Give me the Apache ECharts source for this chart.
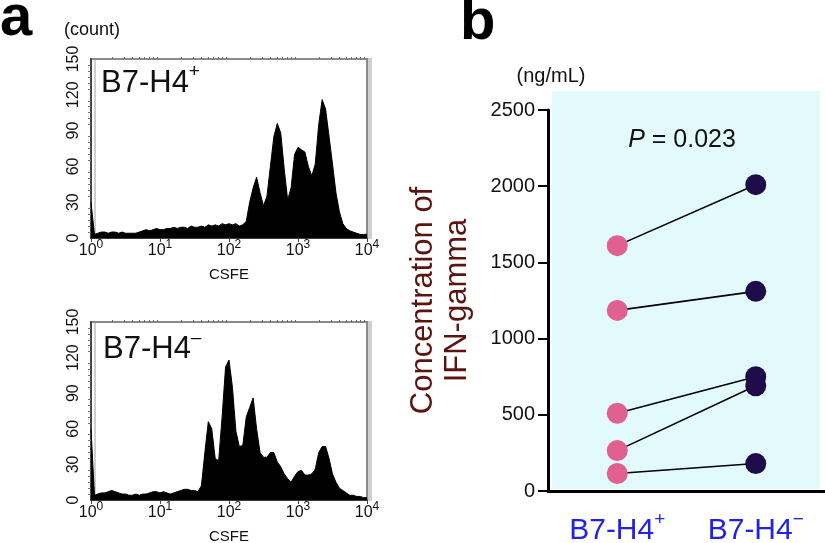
<!DOCTYPE html>
<html><head><meta charset="utf-8">
<script src="https://cdn.jsdelivr.net/npm/echarts@6/dist/echarts.min.js"></script>
<style>html,body{margin:0;padding:0;background:#fff}#c{width:825px;height:543px}</style>
</head><body><div id="c"></div>
<script>
// ---- data ----
const logBinWidth = 0.05; // histogram bin width in log10(CSFE)
const countPos = [30,3,4,5,5,4,5,5,4,5,4,4, 4,4,5,6, 7,6,7,8,7,7,8, 8,9,8,9,9,8,10,9,9, 10,9,11,10,11,10,12,11, 12,11,12,10,11,
  14,30,42,51,38,27,35,60,85,96,88,58,32,42,70,76,74,72,60,52,62,95,116,108,85,62,38,22,12,8,6,5,4,3,3,3];
const countNeg = [60,4,5,6,6,7,8,7,6,5, 5,4,4,5,4,5,5,6,7,7, 6,7,6,5,6,7,8,9,9,8, 8,7,12,40,66,60,35,33,70,112,
  118,95,58,45,46,70,78,86,60,40, 36,36,40,40,32,28,22,18,15,20, 24,25,21,21,22,26,40,45,45,35, 22,15,10,8,6,4,4,3,3,2, 2];
const histMin = 1, histMax = 10000;
const countMax = 150, countStep = 30;
const groups = ['B7-H4+', 'B7-H4\u2212'];
const ifnPos = [1610, 1185, 510, 265, 115];
const ifnNeg = [2010, 1310, 750, 690, 180];
const ifnMax = 2500, ifnStep = 500;

// ---- helpers ----
const FONT = '"Liberation Sans", Arial, Helvetica, sans-serif';
const minorVals = [];
for (let d = 1; d < histMax; d *= 10) for (let k = 2; k <= 9; k++) minorVals.push(d * k);
const toXY = arr => arr.map((c, i) => [Math.pow(10, i * logBinWidth), c]);
const supRich = (size, supSize, color, lh, slh) => ({
  m: {fontSize: size, fontFamily: FONT, color: color, lineHeight: lh},
  s: {fontSize: supSize, fontFamily: FONT, color: color, verticalAlign: 'top', lineHeight: slh || supSize}
});
const supText = v => '{m|' + v.slice(0, -1) + '}{s|' + v.slice(-1) + '}';

const histGrids = [
  {left: 91, top: 59, width: 276, height: 179},
  {left: 91, top: 322, width: 276, height: 178}
];
const grids = histGrids.map(g => Object.assign({show: true, backgroundColor: '#fff', borderColor: '#8a8a8a', borderWidth: 2,
  shadowColor: '#cfcfcf', shadowOffsetX: 4, shadowBlur: 0, outerBoundsMode: 'none', containLabel: false}, g));
grids.push({left: 548, top: 110, width: 277, height: 381, outerBoundsMode: 'none', containLabel: false});

const xAxes = [], yAxes = [], series = [];
[countPos, countNeg].forEach((counts, gi) => {
  xAxes.push({
    type: 'log', logBase: 10, min: histMin, max: histMax, gridIndex: gi,
    axisLine: {show: true, lineStyle: {color: '#222', width: 1.5}},
    axisTick: {show: true, length: 4, lineStyle: {color: '#444'}},
    axisLabel: {margin: 1, formatter: v => '{m|10}{s|' + Math.round(Math.log10(v)) + '}', rich: supRich(16, 12, '#111', 24)},
    splitLine: {show: false},
    name: 'CSFE', nameLocation: 'middle', nameGap: 29,
    nameTextStyle: {fontSize: 15, fontFamily: FONT, color: '#111'}
  });
  xAxes.push({
    type: 'log', logBase: 10, min: histMin, max: histMax, gridIndex: gi,
    axisLine: {show: false}, axisLabel: {show: false}, splitLine: {show: false},
    axisTick: {show: true, length: 2, customValues: minorVals, lineStyle: {color: '#666'}}
  });
  yAxes.push({
    type: 'value', min: 0, max: countMax, interval: countStep, gridIndex: gi,
    axisLine: {show: true, lineStyle: {color: '#444', width: 2}},
    axisTick: {show: false},
    minorTick: {show: true, splitNumber: 6, length: 3, lineStyle: {color: '#777'}},
    axisLabel: {rotate: 90, margin: 9, fontSize: 16, fontFamily: FONT, color: '#111'},
    splitLine: {show: false}
  });
  series.push({
    type: 'line', xAxisIndex: gi * 2, yAxisIndex: gi, data: toXY(counts), symbol: 'none', silent: true,
    lineStyle: {color: '#000', width: 1}, areaStyle: {color: '#000', opacity: 1}
  });
});

xAxes.push({
  type: 'category', gridIndex: 2, data: groups, boundaryGap: true,
  axisLine: {lineStyle: {color: '#000', width: 3}},
  axisTick: {alignWithLabel: true, length: 9, lineStyle: {color: '#000', width: 2}},
  axisLabel: {margin: 19, formatter: supText, rich: supRich(30, 19, '#2222e6', 42, 19)}
});
yAxes.push({
  type: 'value', gridIndex: 2, min: 0, max: ifnMax, interval: ifnStep,
  axisLine: {show: true, lineStyle: {color: '#000', width: 3}},
  axisTick: {show: true, length: 10, lineStyle: {color: '#000', width: 2}},
  axisLabel: {margin: 13, fontSize: 20, fontFamily: FONT, color: '#111', formatter: v => String(v)},
  splitLine: {show: false},
  name: 'Concentration of\nIFN-gamma', nameLocation: 'middle', nameRotate: 90, nameGap: 74,
  nameTextStyle: {fontSize: 31, lineHeight: 34, fontFamily: FONT, color: '#5a1510'}
});
const bx = xAxes.length - 1, by = yAxes.length - 1;
ifnPos.forEach((v, i) => {
  series.push({type: 'line', xAxisIndex: bx, yAxisIndex: by, data: [v, ifnNeg[i]], symbol: 'none', silent: true,
    lineStyle: {color: '#000', width: 1.6}, z: 2});
});
series.push({type: 'scatter', xAxisIndex: bx, yAxisIndex: by, data: ifnPos.map(v => [0, v]), symbolSize: 21,
  itemStyle: {color: '#e0608f', opacity: 1}, z: 4});
series.push({type: 'scatter', xAxisIndex: bx, yAxisIndex: by, data: ifnNeg.map(v => [1, v]), symbolSize: 21,
  itemStyle: {color: '#1e0c4a', opacity: 1}, z: 4});

const txt = (x, y, text, extra) => ({type: 'text', x: x, y: y, z: 10,
  style: Object.assign({text: text, fontFamily: FONT, fill: '#111', align: 'left', verticalAlign: 'middle'}, extra)});

const option = {
  animation: false,
  grid: grids, xAxis: xAxes, yAxis: yAxes, series: series,
  graphic: [
    {type: 'rect', z: -10, shape: {x: 552, y: 91, width: 268, height: 398}, style: {fill: '#e3fafc'}},
    txt(0, 19, 'a', {fontWeight: 'bold', fontSize: 58, fill: '#000'}),
    txt(460, 23, 'b', {fontWeight: 'bold', fontSize: 58, fill: '#000'}),
    txt(64, 30, '(count)', {fontSize: 18}),
    txt(551, 76, '(ng/mL)', {fontSize: 20, align: 'center'}),
    txt(682, 140, '{i|P} = 0.023', {fontSize: 25, align: 'center', rich: {i: {fontStyle: 'italic', fontSize: 25, fontFamily: FONT}}}),
    txt(101, 83, '{m|B7-H4}{s|+}', {rich: supRich(31, 19, '#5b1a12', 42, 19)}),
    txt(103, 349, '{m|B7-H4}{s|\u2013}', {rich: supRich(31, 19, '#5b1a12', 42, 19)})
  ]
};
echarts.init(document.getElementById('c')).setOption(option);
</script></body></html>
